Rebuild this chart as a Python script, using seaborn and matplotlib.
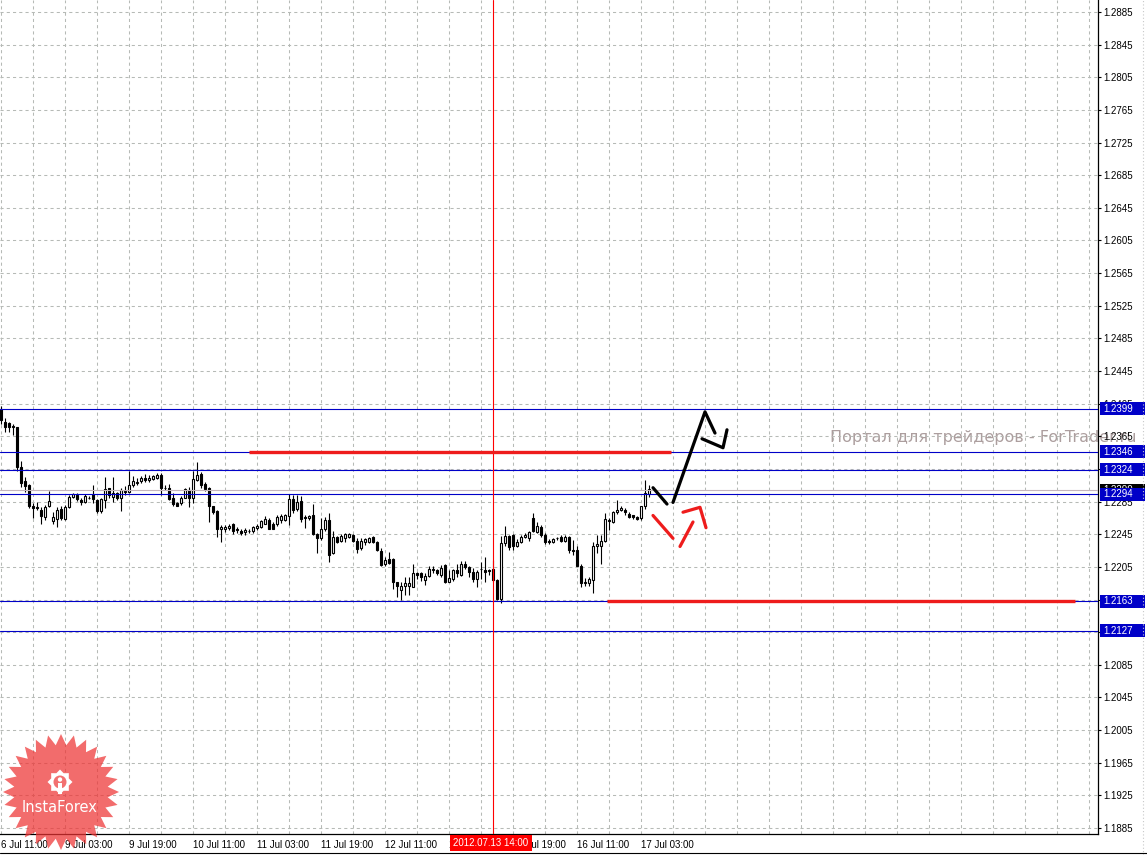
"""
EURUSD H1 chart with support / resistance levels, MT4 look.
"""

import numpy as np
import pandas as pd
import matplotlib
matplotlib.use("Agg")
import matplotlib.pyplot as plt
import matplotlib.transforms as mtransforms
from matplotlib.patches import Rectangle, Polygon, Circle
from matplotlib.lines import Line2D
from matplotlib.ticker import FixedLocator
import seaborn as sns

# ── Data ──────────────────────────────────────────────────────────────────────
OPENS = [
    1.2399, 1.2383, 1.2381, 1.2378, 1.2376, 1.2328, 1.2310, 1.2305, 1.2280, 1.2278,
    1.2275, 1.2266, 1.2280, 1.2261, 1.2264, 1.2276, 1.2264, 1.2278, 1.2291, 1.2293,
    1.2287, 1.2285, 1.2290, 1.2294, 1.2287, 1.2273, 1.2287, 1.2302, 1.2291, 1.2295,
    1.2289, 1.2298, 1.2297, 1.2305, 1.2308, 1.2310, 1.2314, 1.2311, 1.2313, 1.2314,
    1.2318, 1.2302, 1.2302, 1.2290, 1.2283, 1.2283, 1.2290, 1.2299, 1.2289, 1.2312,
    1.2319, 1.2306, 1.2302, 1.2279, 1.2274, 1.2251, 1.2252, 1.2253, 1.2257, 1.2251,
    1.2249, 1.2248, 1.2249, 1.2249, 1.2253, 1.2254, 1.2258, 1.2263, 1.2258, 1.2257,
    1.2262, 1.2263, 1.2267, 1.2288, 1.2276, 1.2286, 1.2266, 1.2265, 1.2269, 1.2245,
    1.2240, 1.2251, 1.2263, 1.2222, 1.2242, 1.2237, 1.2241, 1.2242, 1.2244, 1.2237,
    1.2228, 1.2235, 1.2236, 1.2242, 1.2236, 1.2225, 1.2208, 1.2215, 1.2215, 1.2186,
    1.2177, 1.2181, 1.2182, 1.2180, 1.2198, 1.2197, 1.2189, 1.2194, 1.2203, 1.2201,
    1.2195, 1.2207, 1.2187, 1.2190, 1.2201, 1.2195, 1.2209, 1.2205, 1.2199, 1.2190,
    1.2203, 1.2201, 1.2201, 1.2203, 1.2189, 1.2166, 1.2234, 1.2243, 1.2244, 1.2230,
    1.2235, 1.2242, 1.2240, 1.2265, 1.2248, 1.2254, 1.2244, 1.2237, 1.2235, 1.2240,
    1.2242, 1.2237, 1.2242, 1.2226, 1.2226, 1.2206, 1.2185, 1.2185, 1.2189, 1.2230,
    1.2231, 1.2237, 1.2263, 1.2260, 1.2272, 1.2275, 1.2275, 1.2270, 1.2268, 1.2266,
    1.2265, 1.2279, 1.2294,
]
HIGHS = [
    1.2402, 1.2388, 1.2382, 1.2380, 1.2377, 1.2335, 1.2315, 1.2307, 1.2283, 1.2285,
    1.2278, 1.2281, 1.2298, 1.2272, 1.2278, 1.2280, 1.2281, 1.2293, 1.2295, 1.2295,
    1.2289, 1.2294, 1.2292, 1.2305, 1.2288, 1.2289, 1.2315, 1.2302, 1.2315, 1.2297,
    1.2302, 1.2304, 1.2322, 1.2316, 1.2314, 1.2316, 1.2319, 1.2317, 1.2317, 1.2320,
    1.2320, 1.2305, 1.2307, 1.2295, 1.2285, 1.2292, 1.2302, 1.2303, 1.2323, 1.2333,
    1.2321, 1.2309, 1.2303, 1.2280, 1.2275, 1.2256, 1.2256, 1.2258, 1.2259, 1.2254,
    1.2252, 1.2253, 1.2251, 1.2255, 1.2257, 1.2263, 1.2267, 1.2265, 1.2260, 1.2268,
    1.2270, 1.2270, 1.2294, 1.2293, 1.2293, 1.2292, 1.2268, 1.2269, 1.2282, 1.2246,
    1.2265, 1.2266, 1.2271, 1.2249, 1.2243, 1.2245, 1.2246, 1.2246, 1.2245, 1.2240,
    1.2241, 1.2241, 1.2242, 1.2243, 1.2237, 1.2228, 1.2217, 1.2223, 1.2216, 1.2187,
    1.2187, 1.2192, 1.2192, 1.2209, 1.2199, 1.2199, 1.2197, 1.2206, 1.2206, 1.2203,
    1.2207, 1.2208, 1.2201, 1.2203, 1.2208, 1.2212, 1.2212, 1.2206, 1.2204, 1.2201,
    1.2211, 1.2217, 1.2203, 1.2214, 1.2190, 1.2243, 1.2255, 1.2244, 1.2245, 1.2239,
    1.2244, 1.2246, 1.2249, 1.2271, 1.2260, 1.2256, 1.2246, 1.2239, 1.2241, 1.2242,
    1.2244, 1.2244, 1.2243, 1.2238, 1.2231, 1.2208, 1.2191, 1.2192, 1.2235, 1.2244,
    1.2244, 1.2271, 1.2265, 1.2273, 1.2287, 1.2279, 1.2277, 1.2272, 1.2269, 1.2267,
    1.2280, 1.2312, 1.2305,
]
LOWS = [
    1.2380, 1.2370, 1.2370, 1.2367, 1.2322, 1.2303, 1.2297, 1.2277, 1.2265, 1.2275,
    1.2258, 1.2263, 1.2278, 1.2258, 1.2254, 1.2263, 1.2263, 1.2277, 1.2289, 1.2286,
    1.2281, 1.2283, 1.2288, 1.2283, 1.2271, 1.2271, 1.2277, 1.2290, 1.2285, 1.2287,
    1.2274, 1.2293, 1.2296, 1.2303, 1.2305, 1.2308, 1.2309, 1.2309, 1.2312, 1.2313,
    1.2293, 1.2299, 1.2287, 1.2279, 1.2279, 1.2281, 1.2289, 1.2278, 1.2283, 1.2310,
    1.2302, 1.2298, 1.2260, 1.2270, 1.2242, 1.2235, 1.2248, 1.2250, 1.2245, 1.2247,
    1.2244, 1.2244, 1.2246, 1.2247, 1.2250, 1.2253, 1.2257, 1.2251, 1.2251, 1.2255,
    1.2259, 1.2261, 1.2256, 1.2271, 1.2274, 1.2260, 1.2253, 1.2262, 1.2244, 1.2222,
    1.2238, 1.2249, 1.2211, 1.2221, 1.2234, 1.2235, 1.2236, 1.2241, 1.2236, 1.2222,
    1.2226, 1.2232, 1.2234, 1.2234, 1.2224, 1.2206, 1.2206, 1.2208, 1.2178, 1.2168,
    1.2165, 1.2171, 1.2171, 1.2180, 1.2190, 1.2188, 1.2183, 1.2192, 1.2198, 1.2195,
    1.2193, 1.2185, 1.2186, 1.2188, 1.2193, 1.2194, 1.2202, 1.2193, 1.2186, 1.2180,
    1.2190, 1.2186, 1.2195, 1.2187, 1.2165, 1.2161, 1.2231, 1.2226, 1.2226, 1.2229,
    1.2234, 1.2240, 1.2237, 1.2248, 1.2246, 1.2242, 1.2233, 1.2233, 1.2234, 1.2238,
    1.2235, 1.2235, 1.2222, 1.2219, 1.2206, 1.2180, 1.2182, 1.2182, 1.2173, 1.2222,
    1.2208, 1.2236, 1.2250, 1.2259, 1.2270, 1.2273, 1.2268, 1.2265, 1.2264, 1.2262,
    1.2263, 1.2276, 1.2291,
]
CLOSES = [
    1.2385, 1.2377, 1.2377, 1.2376, 1.2327, 1.2308, 1.2304, 1.2280, 1.2277, 1.2277,
    1.2267, 1.2278, 1.2286, 1.2266, 1.2275, 1.2265, 1.2278, 1.2291, 1.2294, 1.2288,
    1.2284, 1.2292, 1.2290, 1.2288, 1.2273, 1.2288, 1.2301, 1.2293, 1.2296, 1.2289,
    1.2299, 1.2297, 1.2305, 1.2310, 1.2309, 1.2314, 1.2311, 1.2314, 1.2316, 1.2317,
    1.2302, 1.2302, 1.2288, 1.2282, 1.2280, 1.2290, 1.2300, 1.2289, 1.2313, 1.2318,
    1.2305, 1.2300, 1.2279, 1.2272, 1.2252, 1.2254, 1.2254, 1.2255, 1.2249, 1.2250,
    1.2247, 1.2250, 1.2249, 1.2254, 1.2255, 1.2261, 1.2264, 1.2252, 1.2252, 1.2266,
    1.2267, 1.2268, 1.2288, 1.2275, 1.2285, 1.2264, 1.2265, 1.2267, 1.2245, 1.2241,
    1.2252, 1.2263, 1.2220, 1.2242, 1.2236, 1.2243, 1.2245, 1.2245, 1.2237, 1.2227,
    1.2237, 1.2239, 1.2241, 1.2235, 1.2226, 1.2207, 1.2214, 1.2210, 1.2186, 1.2181,
    1.2181, 1.2185, 1.2185, 1.2198, 1.2195, 1.2192, 1.2194, 1.2202, 1.2201, 1.2197,
    1.2204, 1.2186, 1.2191, 1.2201, 1.2198, 1.2208, 1.2205, 1.2199, 1.2190, 1.2199,
    1.2202, 1.2199, 1.2200, 1.2189, 1.2166, 1.2234, 1.2243, 1.2229, 1.2230, 1.2236,
    1.2242, 1.2244, 1.2248, 1.2249, 1.2255, 1.2244, 1.2235, 1.2236, 1.2239, 1.2240,
    1.2237, 1.2242, 1.2226, 1.2225, 1.2206, 1.2185, 1.2187, 1.2190, 1.2230, 1.2233,
    1.2237, 1.2264, 1.2261, 1.2272, 1.2275, 1.2277, 1.2272, 1.2266, 1.2266, 1.2264,
    1.2279, 1.2296, 1.2300,
]

# horizontal levels (blue) and current bid
BLUE_LEVELS = [1.2399, 1.2346, 1.2324, 1.2294, 1.2163, 1.2127]
BID_LEVEL = 1.2299

# red target segments: (start bar, end bar, price)
RED_SEGMENTS = [(62.0, 167.4, 1.2346), (151.4, 268.5, 1.2163)]

# hand-drawn scenario arrows (bar index, price)
BLACK_PATHS = [
    ([163.0, 166.5], [1.2302, 1.2282]),
    ([168.0, 176.0, 178.5], [1.2284, 1.2395, 1.2369]),
    ([175.25, 180.5, 181.5], [1.2362, 1.2351, 1.2373]),
]
RED_PATHS = [
    ([163.0, 168.0], [1.2268, 1.2240]),
    ([169.75, 173.0], [1.2230, 1.2260]),
    ([170.5, 174.75, 176.25], [1.2272, 1.2278, 1.2253]),
]

CROSS_BAR = 123
CROSS_LABEL = "2012.07.13 14:00"

X_TICKS = [0, 16, 32, 48, 64, 80, 96, 112, 128, 144, 160]
X_LABELS = ["6 Jul 11:00", "9 Jul 03:00", "9 Jul 19:00", "10 Jul 11:00",
            "11 Jul 03:00", "11 Jul 19:00", "12 Jul 11:00", "13 Jul 03:00",
            "13 Jul 19:00", "16 Jul 11:00", "17 Jul 03:00"]
Y_TICKS = [1.1885, 1.1925, 1.1965, 1.2005, 1.2045, 1.2085, 1.2125, 1.2165,
           1.2205, 1.2245, 1.2285, 1.2325, 1.2365, 1.2405, 1.2445, 1.2485,
           1.2525, 1.2565, 1.2605, 1.2645, 1.2685, 1.2725, 1.2765, 1.2805,
           1.2845, 1.2885]

WATERMARK = "Портал для трейдеров - ForTrader.ru"

# ── Style ─────────────────────────────────────────────────────────────────────
sns.set_style("white")
plt.rcParams["font.family"] = ["Liberation Sans", "DejaVu Sans"]
LEVEL_BLUE = "#0000C8"
GRID_GREY = "#B6BAB6"
PX = 0.1 / 816          # price per pixel


def draw_candles(ax, df):
    ax.vlines(df["bar"], df["low"], df["high"], color="black", lw=0.8, zorder=3)
    up = df["close"] >= df["open"]
    body_lo = np.minimum(df["open"], df["close"])
    body_h = (df["close"] - df["open"]).abs()
    ax.bar(df["bar"][up], body_h[up], bottom=body_lo[up], width=0.62,
           facecolor="white", edgecolor="black", linewidth=0.8, zorder=3.2)
    ax.bar(df["bar"][~up], body_h[~up], bottom=body_lo[~up], width=0.62,
           facecolor="black", edgecolor="black", linewidth=0.8, zorder=3.2)


def price_box(ax, trans, value, fc, z):
    h = 13 * PX
    ax.add_patch(Rectangle((1100 / 1098, value - h / 2), 45 / 1098, h,
                           transform=trans, facecolor=fc, edgecolor="none",
                           clip_on=False, zorder=z))
    ax.text(1103 / 1098, value, f"{value:.4f}", transform=trans, color="white",
            fontsize=7, va="center", ha="left", clip_on=False, zorder=z + 0.1)


def draw_logo(fig):
    lax = fig.add_axes([0 / 1147, 2 / 855, 122 / 1147, 122 / 855])
    lax.set_xlim(-61, 61)
    lax.set_ylim(-61, 61)
    lax.axis("off")
    n = 28
    ang = np.linspace(np.pi / 2, np.pi / 2 + 2 * np.pi, 2 * n, endpoint=False)
    rad = np.where(np.arange(2 * n) % 2 == 0, 58, 47)
    star = Polygon(np.c_[rad * np.cos(ang), rad * np.sin(ang)], closed=True,
                   facecolor="#EE3333", edgecolor="none", alpha=0.72)
    lax.add_patch(star)
    # gear icon
    gx, gy = -1, 10
    t = np.linspace(0, 2 * np.pi, 16, endpoint=False)
    teeth = []
    for a in t:
        r = 12.5 if int(round(a / (2 * np.pi / 16))) % 2 == 0 else 9.5
        teeth.append((gx + r * np.cos(a), gy + r * np.sin(a)))
    lax.add_patch(Polygon(teeth, closed=True, facecolor="white", edgecolor="none"))
    lax.add_patch(Circle((gx, gy), 6.5, facecolor="#F27070", edgecolor="none"))
    lax.add_patch(Circle((gx, gy + 2.5), 2.2, facecolor="white", edgecolor="none"))
    lax.add_patch(Rectangle((gx - 1.8, gy - 12), 3.6, 11, facecolor="white",
                            edgecolor="none"))
    lax.text(-1, -15, "InstaForex", color="white", fontsize=10.5,
             ha="center", va="center", family=["DejaVu Sans"])


def plot_chart():
    df = pd.DataFrame({"open": OPENS, "high": HIGHS, "low": LOWS, "close": CLOSES})
    df["bar"] = np.arange(len(df))

    fig = plt.figure(figsize=(11.47, 8.55), dpi=100)
    fig.patch.set_facecolor("white")
    ax = fig.add_axes([0, 21 / 855, 1098 / 1147, 834 / 855])
    ax.set_facecolor("white")

    ax.set_xlim(-0.25, 274.25)
    ax.set_ylim(1.2885 - 822 * PX, 1.2885 + 12 * PX)

    # axes / grid
    ax.yaxis.tick_right()
    ax.set_yticks(Y_TICKS)
    ax.set_yticklabels([f"{v:.4f}" for v in Y_TICKS])
    ax.set_xticks(X_TICKS)
    ax.set_xticklabels(X_LABELS)
    for lbl in ax.get_xticklabels():
        lbl.set_ha("left")
    ax.xaxis.set_minor_locator(FixedLocator(list(range(8, 274, 8))))
    ax.tick_params(axis="y", direction="out", length=2, width=0.8, pad=2,
                   labelsize=7, colors="black")
    ax.tick_params(axis="x", which="major", direction="out", length=3, width=0.8,
                   pad=1, labelsize=7, colors="black")
    ax.tick_params(axis="x", which="minor", length=0)
    ax.set_axisbelow(True)
    ax.grid(True, which="both", axis="x", color=GRID_GREY,
            linestyle=(0, (3, 3)), linewidth=0.75)
    ax.grid(True, which="major", axis="y", color=GRID_GREY,
            linestyle=(0, (3, 3)), linewidth=0.75)
    for side in ["top", "left"]:
        ax.spines[side].set_visible(False)
    for side in ["right", "bottom"]:
        ax.spines[side].set_color("black")
        ax.spines[side].set_linewidth(0.9)

    # watermark behind the grid
    ax.text(207.2, 1.2363, WATERMARK, color="#AC9E9E", fontsize=11.5,
            family=["DejaVu Sans"], va="center", ha="left", clip_on=False,
            zorder=0.2)

    draw_candles(ax, df)

    # horizontal levels
    for lv in BLUE_LEVELS:
        ax.axhline(lv, color=LEVEL_BLUE, lw=0.8, zorder=3.5)
    ax.axhline(BID_LEVEL, color="#C4B4BC", lw=0.8, zorder=3.4)
    ax.axvline(CROSS_BAR, color="red", lw=0.8, zorder=3.6)

    for x0, x1, lv in RED_SEGMENTS:
        ax.plot([x0, x1], [lv, lv], color="#EE1C1C", lw=2.4,
                solid_capstyle="butt", zorder=3.7)

    for xs, ys in BLACK_PATHS:
        sns.lineplot(x=xs, y=ys, sort=False, estimator=None, ax=ax,
                     color="black", lw=2.3, zorder=4)
    for xs, ys in RED_PATHS:
        sns.lineplot(x=xs, y=ys, sort=False, estimator=None, ax=ax,
                     color="#EE1C1C", lw=2.3, zorder=4)
    ax.set_xlabel("")
    ax.set_ylabel("")

    # price labels on the scale
    trans = mtransforms.blended_transform_factory(ax.transAxes, ax.transData)
    price_box(ax, trans, BID_LEVEL, "black", 6)
    for lv in BLUE_LEVELS:
        price_box(ax, trans, lv, LEVEL_BLUE, 7)

    # crosshair time label
    xtrans = mtransforms.blended_transform_factory(ax.transData, ax.transAxes)
    ax.text(CROSS_BAR - 0.5, -9 / 834, CROSS_LABEL, transform=xtrans, color="white",
            fontsize=7, ha="center", va="center", clip_on=False, zorder=8,
            bbox=dict(boxstyle="square,pad=0.35", facecolor="red", edgecolor="none"))

    # window frame bits
    fig.add_artist(Line2D([0, 1], [2 / 855, 2 / 855], color="black", lw=0.8))
    fig.add_artist(Line2D([1143 / 1147, 1143 / 1147], [0, 1], color="#C8C8C8",
                          lw=0.8, linestyle=(0, (1, 2))))

    draw_logo(fig)

    fig.savefig("out.png", dpi=100)
    print("Saved → out.png")


if __name__ == "__main__":
    plot_chart()
